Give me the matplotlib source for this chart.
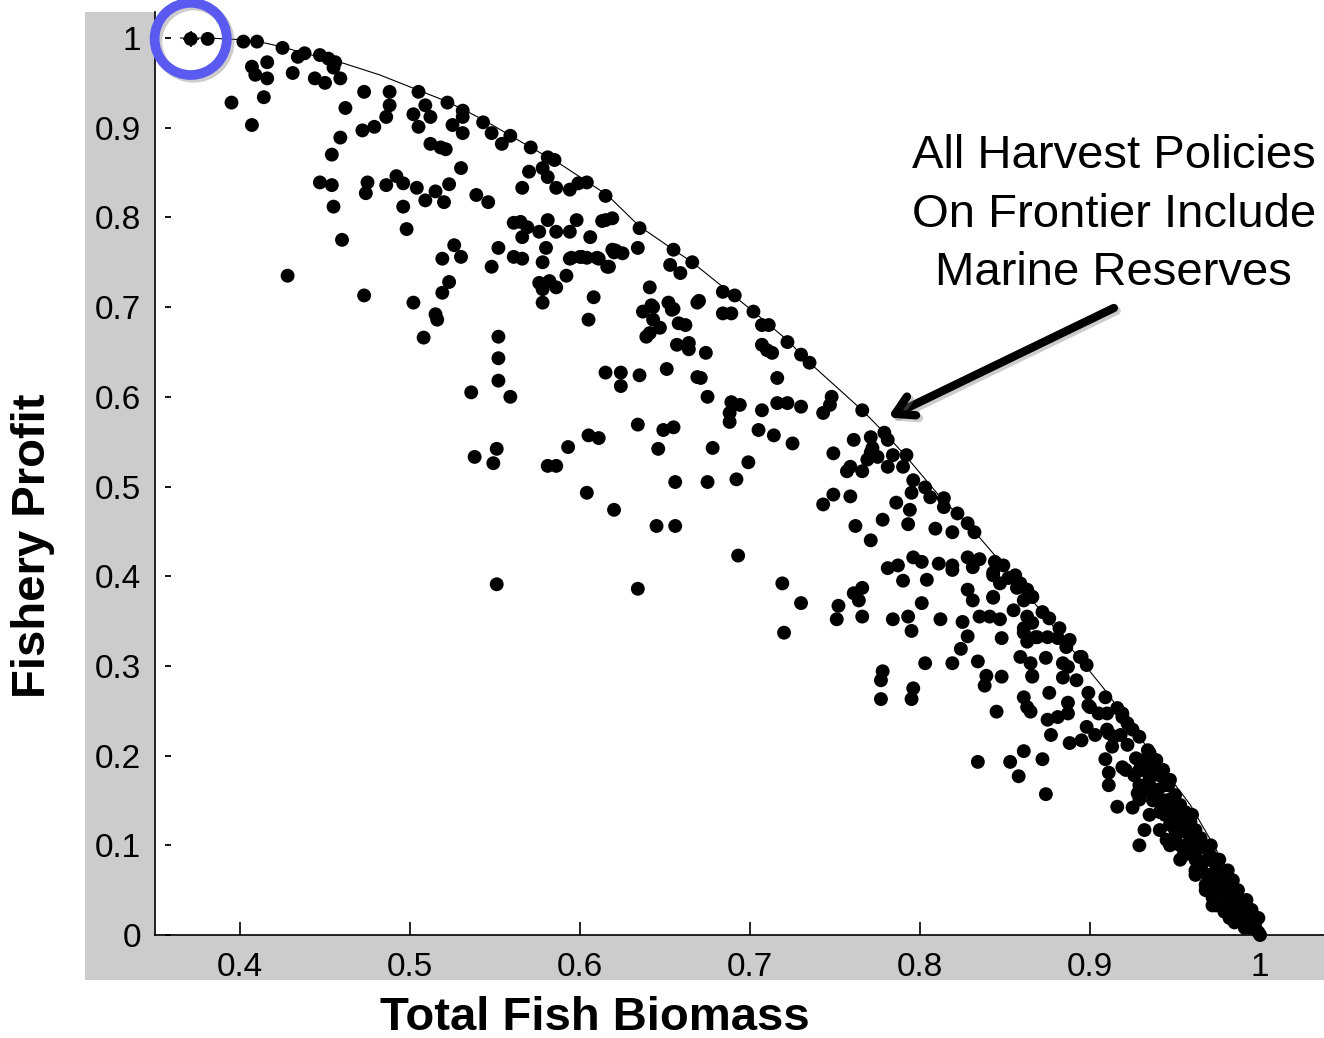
import matplotlib
matplotlib.use('Agg')
import matplotlib.pyplot as plt
import matplotlib.patheffects as pe
from matplotlib.patches import Rectangle
import numpy as np

# ---------------- data ----------------
upper_biomass = [0.371,0.381,0.402,0.410,0.425,0.434,0.438,0.447,0.452,0.456,0.455,0.459,0.407,0.416,0.409,0.416,0.431,0.444,0.450,0.395,0.414,0.407,0.462,0.473,0.488,0.488,0.486,0.472,0.479,0.459,0.454,0.505,0.509,0.512,0.502,0.505,0.522,0.531,0.531,0.525,0.531,0.543,0.548,0.554,0.559,0.571,0.512,0.518,0.521,0.530,0.570,0.578,0.581,0.585,0.581,0.566,0.586,0.594,0.599,0.604,0.615,0.615,0.619,0.620,0.447,0.454,0.455,0.460,0.428,0.473,0.475,0.474,0.486,0.492,0.496,0.504,0.509,0.515,0.523,0.520,0.496,0.498,0.539,0.546,0.561,0.565,0.569,0.566,0.576,0.581,0.586,0.594,0.598,0.606,0.526,0.530,0.519,0.552,0.548,0.561,0.566,0.580,0.578,0.594,0.600,0.604,0.611,0.617,0.621,0.592,0.576,0.582,0.586,0.578,0.578,0.608,0.605,0.523,0.519,0.502,0.515,0.516,0.508,0.552,0.552,0.552,0.536,0.559]
upper_profit = [0.999,0.999,0.996,0.996,0.989,0.979,0.983,0.981,0.977,0.973,0.967,0.955,0.968,0.973,0.959,0.955,0.961,0.955,0.950,0.928,0.934,0.903,0.922,0.940,0.940,0.925,0.912,0.897,0.901,0.889,0.870,0.940,0.925,0.912,0.915,0.901,0.928,0.919,0.912,0.903,0.894,0.906,0.894,0.882,0.891,0.878,0.882,0.878,0.876,0.855,0.851,0.855,0.867,0.864,0.845,0.833,0.833,0.831,0.838,0.839,0.824,0.797,0.799,0.761,0.839,0.836,0.812,0.775,0.735,0.713,0.839,0.827,0.836,0.846,0.838,0.833,0.819,0.829,0.837,0.817,0.812,0.787,0.825,0.817,0.794,0.795,0.789,0.778,0.784,0.797,0.784,0.784,0.797,0.778,0.769,0.756,0.754,0.766,0.745,0.756,0.754,0.766,0.750,0.754,0.756,0.755,0.754,0.745,0.763,0.735,0.727,0.729,0.722,0.720,0.705,0.711,0.686,0.728,0.716,0.705,0.692,0.686,0.666,0.667,0.643,0.618,0.605,0.600]

middle_biomass = [0.637,0.643,0.652,0.655,0.643,0.647,0.639,0.641,0.658,0.662,0.657,0.664,0.664,0.669,0.615,0.624,0.624,0.635,0.651,0.669,0.634,0.649,0.655,0.646,0.605,0.611,0.593,0.581,0.586,0.656,0.604,0.620,0.645,0.656,0.551,0.538,0.549,0.551,0.634,0.613,0.635,0.634,0.619,0.625,0.595,0.601,0.610,0.616,0.655,0.653,0.659,0.666,0.641,0.642,0.654,0.674,0.670,0.684,0.691,0.684,0.689,0.702,0.707,0.711,0.707,0.710,0.713,0.722,0.730,0.735,0.716,0.671,0.675,0.689,0.694,0.688,0.688,0.707,0.716,0.722,0.730,0.748,0.747,0.743,0.766,0.678,0.705,0.714,0.725,0.749,0.761,0.771,0.779,0.781,0.771,0.775,0.784,0.792,0.699,0.759,0.692,0.675,0.693,0.719,0.730,0.720]
middle_profit = [0.695,0.700,0.705,0.698,0.686,0.677,0.667,0.671,0.682,0.680,0.658,0.660,0.653,0.705,0.627,0.627,0.612,0.624,0.631,0.622,0.569,0.563,0.566,0.542,0.557,0.554,0.544,0.523,0.523,0.505,0.493,0.474,0.456,0.456,0.542,0.533,0.526,0.391,0.386,0.796,0.788,0.766,0.764,0.760,0.755,0.756,0.755,0.745,0.764,0.747,0.738,0.750,0.722,0.702,0.697,0.649,0.707,0.717,0.713,0.693,0.693,0.695,0.680,0.680,0.658,0.652,0.649,0.661,0.647,0.638,0.621,0.621,0.600,0.594,0.591,0.582,0.572,0.585,0.593,0.593,0.589,0.600,0.591,0.582,0.585,0.543,0.563,0.557,0.548,0.537,0.552,0.555,0.560,0.552,0.538,0.533,0.535,0.535,0.527,0.522,0.508,0.505,0.423,0.392,0.370,0.337]

lower_biomass = [0.772,0.769,0.781,0.790,0.757,0.766,0.796,0.803,0.795,0.806,0.814,0.814,0.822,0.828,0.832,0.819,0.809,0.786,0.794,0.793,0.778,0.762,0.771,0.749,0.743,0.759,0.781,0.787,0.796,0.801,0.811,0.819,0.819,0.828,0.831,0.835,0.844,0.849,0.843,0.847,0.856,0.859,0.863,0.866,0.790,0.804,0.766,0.761,0.764,0.752,0.751,0.766,0.801,0.784,0.793,0.795,0.812,0.825,0.828,0.831,0.843,0.835,0.841,0.847,0.855,0.863,0.861,0.868,0.828,0.848,0.824,0.834,0.819,0.803,0.859,0.865,0.839,0.848,0.838,0.866,0.861,0.865,0.845,0.778,0.777,0.777,0.796,0.795,0.834,0.853,0.858,0.861,0.872,0.874,0.863,0.876,0.875,0.881,0.887,0.887,0.877,0.888,0.895,0.898,0.903,0.910,0.914,0.913,0.909,0.911,0.911,0.919,0.927,0.931,0.928,0.899,0.899,0.909,0.910,0.916,0.919,0.925,0.929,0.934,0.939,0.943,0.947,0.884,0.892,0.884,0.874,0.866,0.887,0.895,0.898,0.886,0.881,0.875,0.869,0.863,0.861,0.866,0.872,0.876,0.882,0.888,0.894,0.861,0.866,0.857,0.852,0.843,0.843]
lower_profit = [0.543,0.530,0.522,0.522,0.517,0.517,0.507,0.499,0.493,0.488,0.487,0.477,0.470,0.459,0.449,0.449,0.453,0.482,0.474,0.458,0.463,0.456,0.440,0.491,0.480,0.489,0.409,0.412,0.421,0.416,0.414,0.412,0.407,0.421,0.410,0.419,0.416,0.412,0.404,0.392,0.401,0.392,0.385,0.377,0.395,0.396,0.387,0.381,0.373,0.367,0.352,0.355,0.370,0.352,0.355,0.339,0.352,0.349,0.385,0.373,0.376,0.355,0.355,0.352,0.362,0.355,0.337,0.332,0.333,0.331,0.319,0.305,0.303,0.303,0.310,0.303,0.289,0.288,0.278,0.289,0.265,0.249,0.249,0.294,0.284,0.263,0.275,0.263,0.193,0.193,0.177,0.205,0.196,0.157,0.254,0.270,0.240,0.243,0.259,0.247,0.223,0.214,0.217,0.232,0.223,0.229,0.221,0.210,0.196,0.181,0.167,0.187,0.197,0.184,0.158,0.270,0.256,0.265,0.247,0.253,0.243,0.229,0.221,0.206,0.195,0.184,0.173,0.287,0.284,0.303,0.309,0.288,0.299,0.310,0.301,0.321,0.331,0.332,0.332,0.327,0.342,0.348,0.360,0.353,0.342,0.329,0.310,0.373,0.377,0.387,0.398,0.401,0.377]

tail_biomass = [0.900,0.905,0.911,0.919,0.922,0.916,0.925,0.931,0.937,0.932,0.929,0.945,0.953,0.959,0.963,0.966,0.972,0.975,0.935,0.938,0.941,0.946,0.950,0.953,0.956,0.959,0.962,0.965,0.968,0.971,0.974,0.976,0.979,0.982,0.985,0.988,0.991,0.994,0.997,1.000,0.932,0.935,0.940,0.944,0.947,0.952,0.956,0.959,0.962,0.965,0.969,0.974,0.978,0.981,0.985,0.989,0.994,0.999,0.929,0.935,0.941,0.947,0.950,0.955,0.962,0.968,0.972,0.979,0.985,0.991,0.926,0.922,0.918,0.941,0.948,0.953,0.960,0.958,0.971,0.976,0.981,0.984,0.987,0.992,0.995,0.999]
tail_profit = [0.254,0.247,0.225,0.247,0.236,0.143,0.142,0.159,0.150,0.117,0.100,0.106,0.100,0.091,0.098,0.080,0.042,0.061,0.203,0.190,0.178,0.167,0.156,0.145,0.137,0.126,0.117,0.108,0.097,0.088,0.078,0.070,0.061,0.050,0.041,0.033,0.026,0.017,0.010,0.000,0.190,0.175,0.162,0.150,0.137,0.126,0.115,0.106,0.088,0.075,0.067,0.056,0.045,0.033,0.026,0.017,0.008,0.003,0.195,0.162,0.137,0.123,0.108,0.089,0.072,0.056,0.033,0.026,0.014,0.008,0.178,0.212,0.223,0.150,0.145,0.130,0.134,0.119,0.100,0.084,0.072,0.061,0.050,0.039,0.028,0.019]

band_biomass = [0.921,0.929,0.938,0.929,0.935,0.944,0.929,0.938,0.947,0.935,0.944,0.953,0.941,0.950,0.959,0.947,0.956,0.965,0.953,0.962,0.969,0.962,0.971,0.977,0.968,0.975,0.981,0.974,0.981,0.987,0.982,0.988,0.994]
band_profit = [0.184,0.184,0.184,0.167,0.167,0.167,0.151,0.151,0.151,0.134,0.134,0.134,0.117,0.117,0.117,0.100,0.100,0.100,0.084,0.084,0.084,0.067,0.067,0.067,0.050,0.050,0.050,0.033,0.033,0.033,0.019,0.019,0.019]

frontier_biomass = [0.365,0.381,0.402,0.411,0.425,0.438,0.459,0.482,0.502,0.522,0.543,0.571,0.588,0.616,0.635,0.655,0.666,0.702,0.722,0.735,0.766,0.779,0.792,0.812,0.831,0.845,0.869,0.896,0.908,0.924,0.941,0.959,0.976,0.991,1.000]
frontier_profit = [1.000,1.000,0.998,0.996,0.990,0.983,0.973,0.959,0.944,0.929,0.909,0.878,0.860,0.825,0.790,0.764,0.750,0.695,0.663,0.638,0.585,0.560,0.533,0.488,0.452,0.421,0.366,0.303,0.275,0.234,0.190,0.145,0.089,0.039,0.000]

highlight_point = (0.371, 0.999)

x_ticks = [0.4, 0.5, 0.6, 0.7, 0.8, 0.9, 1.0]
x_tick_labels = ["0.4", "0.5", "0.6", "0.7", "0.8", "0.9", "1"]
y_ticks = [0, 0.1, 0.2, 0.3, 0.4, 0.5, 0.6, 0.7, 0.8, 0.9, 1.0]
y_tick_labels = ["0", "0.1", "0.2", "0.3", "0.4", "0.5", "0.6", "0.7", "0.8", "0.9", "1"]

annotation_text = "All Harvest Policies\nOn Frontier Include\nMarine Reserves"
x_label = "Total Fish Biomass"
y_label = "Fishery Profit"

# ---------------- figure ----------------
plt.rcParams['font.family'] = ['Liberation Sans', 'DejaVu Sans']
W, H = 1324, 1038
fig = plt.figure(figsize=(W / 100, H / 100), dpi=100)
fig.patch.set_facecolor('white')
fig.patches.append(Rectangle((85 / W, 58 / H), (W - 85) / W, (980 - 12) / H,
                             transform=fig.transFigure, facecolor='#cccccc',
                             edgecolor='none', zorder=-1))

ax = fig.add_axes([155 / W, 103 / H, (W - 155) / W, 923 / H])
ax.set_facecolor('white')
ax.set_xlim(0.35, 1.0376)
ax.set_ylim(0, 1.029)

for s in ['top', 'right']:
    ax.spines[s].set_visible(False)
for s in ['left', 'bottom']:
    ax.spines[s].set_linewidth(1.2)
    ax.spines[s].set_color('black')

ax.plot(frontier_biomass, frontier_profit, color='black', lw=0.8, zorder=2)

for bx, py in [(upper_biomass, upper_profit), (middle_biomass, middle_profit),
               (lower_biomass, lower_profit), (tail_biomass, tail_profit),
               (band_biomass, band_profit)]:
    ax.scatter(bx, py, s=100, color='black', edgecolors='none', zorder=3, clip_on=False)

# highlighted policy
ax.plot([highlight_point[0]], [highlight_point[1]], marker='+', ms=11, mew=1.2,
        color='black', zorder=4)
ax.plot([highlight_point[0]], [highlight_point[1]], marker='o', ms=52, mew=7,
        mfc='none', mec='#5a5af0', zorder=5, clip_on=False,
        path_effects=[pe.SimpleLineShadow(offset=(2, -2), shadow_color='gray', alpha=0.4),
                      pe.Normal()])

ax.set_xticks(x_ticks)
ax.set_xticklabels(x_tick_labels)
ax.set_yticks(y_ticks)
ax.set_yticklabels(y_tick_labels)
ax.tick_params(axis='x', direction='in', length=9.5, width=1.2, pad=12, labelsize=24)
ax.tick_params(axis='y', length=0, pad=10, labelsize=24)
# small detached y tick dashes
ax.plot(np.full(len(y_ticks), 0.011), y_ticks, transform=ax.get_yaxis_transform(),
        ls='none', marker='_', ms=5, mew=1.3, color='black', clip_on=False)

fig.text(595 / W, 1 - 1030 / H, x_label, ha='center', va='baseline',
         fontsize=34, fontweight='bold')
fig.text(33 / W, 1 - 546 / H, y_label, ha='center', va='center', rotation=90,
         fontsize=34, fontweight='bold')

ax.text(0.914, 0.803, annotation_text, ha='center', va='center', multialignment='center',
        fontsize=34, linespacing=1.42)

ax.annotate('', xy=(0.781, 0.577), xytext=(0.914, 0.699),
            arrowprops=dict(arrowstyle='->,head_length=1.3,head_width=0.75', lw=6,
                            color='black', shrinkA=0, shrinkB=0,
                            path_effects=[pe.SimpleLineShadow(offset=(2, -2), shadow_color='gray', alpha=0.4),
                                          pe.Normal()]),
            zorder=6)

fig.savefig('out.png', dpi=100)
